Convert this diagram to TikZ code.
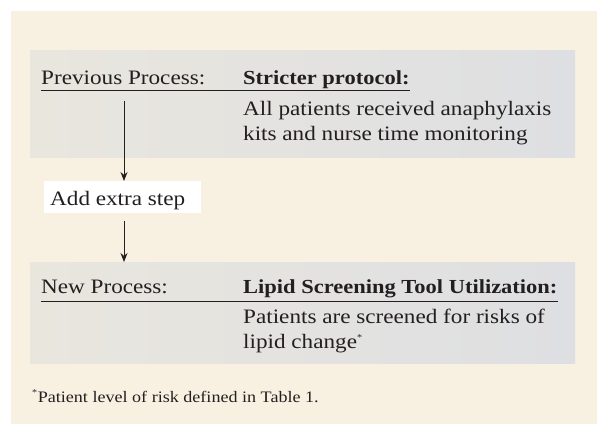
\documentclass[tikz,border=0pt]{standalone}
\usepackage{fontspec}
\setmainfont[FakeStretch=1.13]{Liberation Serif}
\usetikzlibrary{arrows.meta}
\definecolor{cream}{HTML}{F8F1E2}
\definecolor{grayL}{HTML}{E9E6DE}
\definecolor{grayR}{HTML}{DEDFE2}
\definecolor{ink}{HTML}{231F20}
\begin{document}
\begin{tikzpicture}[x=1pt,y=-1pt,
  txt/.style={inner sep=0pt,anchor=base west,text=ink,font=\fontsize{20.5}{25}\selectfont},
  head/.style={txt,font=\fontsize{19.9}{25}\selectfont\bfseries},
  panel/.style={left color=grayL,right color=grayR,draw=none},
  uline/.style={draw=ink,line width=0.9pt},
  flow/.style={draw=ink,line width=0.9pt,-{Stealth[length=9pt,width=7pt]}}]
\useasboundingbox (0,0) rectangle (597,424);
\fill[white] (0,0) rectangle (597,424);
\fill[cream] (11,11) rectangle (597,424);
% panels
\shade[panel] (30,50) rectangle (575,157);
\shade[panel] (30,262) rectangle (575,363);
% first panel
\node[txt] (prev) at (41,84) {Previous Process:};
\node[head] (strict) at (243,84) {Stricter protocol:};
\node[txt] (all) at (243,115) {All patients received anaphylaxis};
\node[txt] (kits) at (243,140) {kits and nurse time monitoring};
\draw[uline] ([yshift=-6pt]prev.base west) -- ([yshift=-6pt]strict.base east);
% middle
\node[fill=white,inner sep=0pt,minimum width=157pt,minimum height=32pt,anchor=north west] (extra) at (44,181) {};
\node[txt] (extratxt) at (50,205) {Add extra step};
\coordinate (start) at (124,101);
\draw[flow] (start) -- (start |- extra.north);
\coordinate (mid) at (124,221);
% second panel
\node[txt] (new) at (41,293) {New Process:};
\node[head] (lipid) at (243,293) {Lipid Screening Tool Utilization:};
\node[txt] (pat) at (243,323) {Patients are screened for risks of};
\node[txt] (lip) at (243,348) {lipid change\textsuperscript{\small*}};
\draw[uline] ([yshift=-8pt]new.base west) -- ([yshift=-8pt]lipid.base east);
\coordinate (panel2) at (124,262);
\draw[flow] (mid) -- (panel2);
% footnote
\node[txt,font=\fontsize{16}{19}\selectfont] (foot) at (32,402) {\textsuperscript{\small*}Patient level of risk defined in Table 1.};
\end{tikzpicture}
\end{document}
